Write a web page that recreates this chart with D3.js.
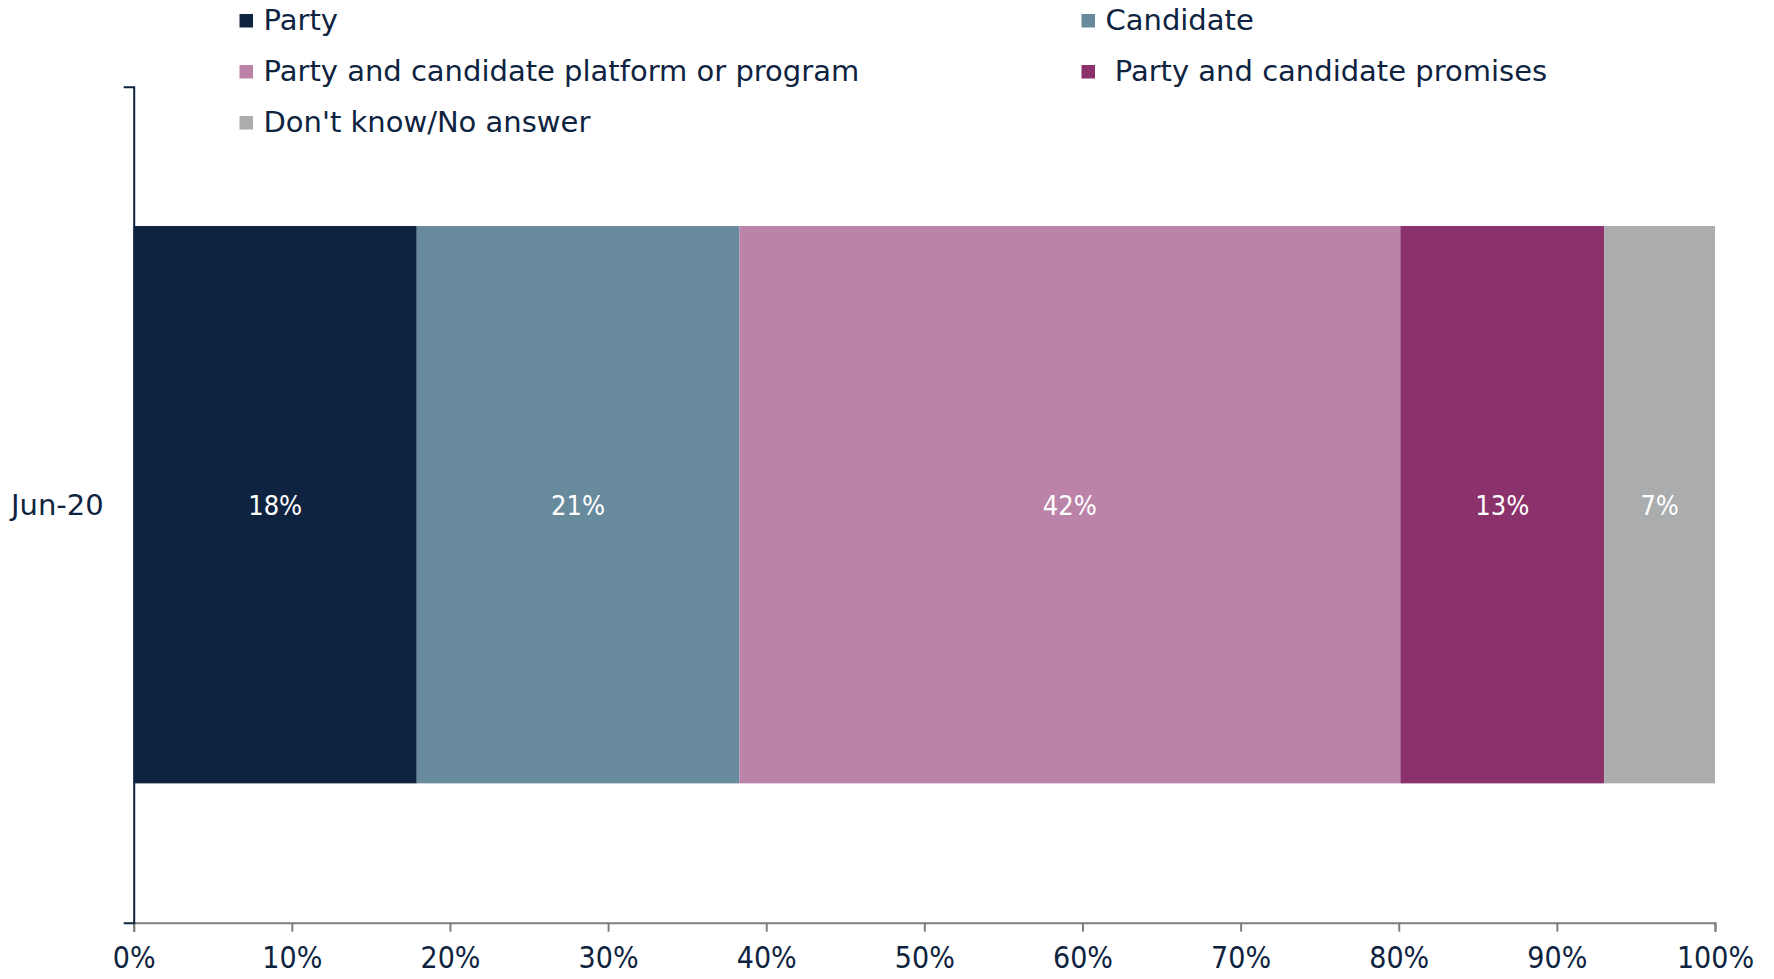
<!DOCTYPE html>
<html>
<head>
<meta charset="utf-8">
<script src="https://cdn.jsdelivr.net/npm/d3@7"></script>
<style>
    body { margin: 0; background: #ffffff; }
    svg { display: block; }
    .narrow { font-family: 'DejaVu Sans Condensed', 'DejaVu Sans', sans-serif; font-stretch: condensed; }
</style>
</head>
<body>
<svg id="bar_chart"></svg>
<script>
var width = 1774;
var height = 979;
var margin = {left: 133.7, right: 59, top: 86.7, bottom: 56.3};

// data
var periods = ["Jun-20"];
var seriesNames = ["Party", "Candidate", "Party and candidate platform or program", " Party and candidate promises", "Don't know/No answer"];
var seriesColors = ["#0e2340", "#678a9d", "#bb83a8", "#8b316c", "#abacad"];
var seriesValues = [17.9, 20.4, 41.8, 12.9, 7.0];
var valueLabels = ["18%", "21%", "42%", "13%", "7%"];
var xTicks = [0, 10, 20, 30, 40, 50, 60, 70, 80, 90, 100];

var textColor = "#0e2340";
var wideFont = "'DejaVu Sans', sans-serif";

var svg = d3.select("#bar_chart")
    .attr("width", width).attr("height", height);

var x = d3.scaleLinear()
    .domain([0, 100])
    .range([margin.left, width - margin.right]);

var y = d3.scaleBand()
    .domain(periods)
    .range([margin.top, height - margin.bottom])
    .paddingInner(1 / 3)
    .paddingOuter(1 / 6);

// stack the segments
var stacked = [];
var running = 0;
seriesValues.forEach(function (v, i) {
    stacked.push({name: seriesNames[i], color: seriesColors[i], x0: running, x1: running + v, label: valueLabels[i], period: periods[0]});
    running += v;
});

svg.append("g").selectAll("rect")
    .data(stacked)
    .enter()
    .append("rect")
    .attr("x", function (d) { return x(d.x0); })
    .attr("width", function (d) { return x(d.x1) - x(d.x0); })
    .attr("y", function (d) { return y(d.period); })
    .attr("height", y.bandwidth())
    .attr("fill", function (d) { return d.color; });

svg.append("g").selectAll("text")
    .data(stacked)
    .enter()
    .append("text")
    .attr("class", "narrow")
    .attr("x", function (d) { return x((d.x0 + d.x1) / 2); })
    .attr("y", function (d) { return y(d.period) + y.bandwidth() / 2 + 10; })
    .attr("text-anchor", "middle")
    .attr("fill", "#ffffff")
    .style("font-size", "27px")
    .text(function (d) { return d.label; });

// x axis (gray)
var xAxis = d3.axisBottom(x)
    .tickValues(xTicks)
    .tickSize(9)
    .tickSizeOuter(9)
    .tickPadding(15)
    .tickFormat(function (d) { return d + "%"; });

var xg = svg.append("g")
    .attr("transform", "translate(0," + (height - margin.bottom) + ")")
    .call(xAxis);
xg.attr("font-family", null);
xg.select(".domain").attr("stroke", "#7f7f7f").attr("stroke-width", 2);
xg.selectAll(".tick line").attr("stroke", "#7f7f7f").attr("stroke-width", 2);
xg.selectAll(".tick text")
    .attr("class", "narrow")
    .attr("fill", textColor)
    .style("font-size", "30px");

// y axis (navy)
var yAxis = d3.axisLeft(y)
    .tickSize(0)
    .tickSizeOuter(10)
    .tickPadding(30);

var yg = svg.append("g")
    .attr("transform", "translate(" + margin.left + ",0)")
    .call(yAxis);
yg.select(".domain").attr("stroke", textColor).attr("stroke-width", 2).attr("fill", "none");
yg.selectAll(".tick text")
    .attr("fill", textColor)
    .attr("dy", "0.35em")
    .style("font-family", wideFont)
    .style("font-size", "29px");

// legend, two columns
var legendCols = [239.5, 1081.5];
var legendRows = [30, 81, 132];
var legend = svg.append("g").selectAll("g")
    .data(stacked)
    .enter()
    .append("g")
    .attr("transform", function (d, i) {
        return "translate(" + legendCols[i % 2] + "," + legendRows[Math.floor(i / 2)] + ")";
    });

legend.append("rect")
    .attr("x", 0)
    .attr("y", -16)
    .attr("width", 13.5)
    .attr("height", 13.5)
    .attr("fill", function (d) { return d.color; });

legend.append("text")
    .attr("x", 24)
    .attr("y", 0)
    .attr("fill", textColor)
    .style("font-family", wideFont)
    .style("font-size", "29px")
    .style("white-space", "pre")
    .attr("xml:space", "preserve")
    .text(function (d) { return d.name; });
</script>
</body>
</html>
